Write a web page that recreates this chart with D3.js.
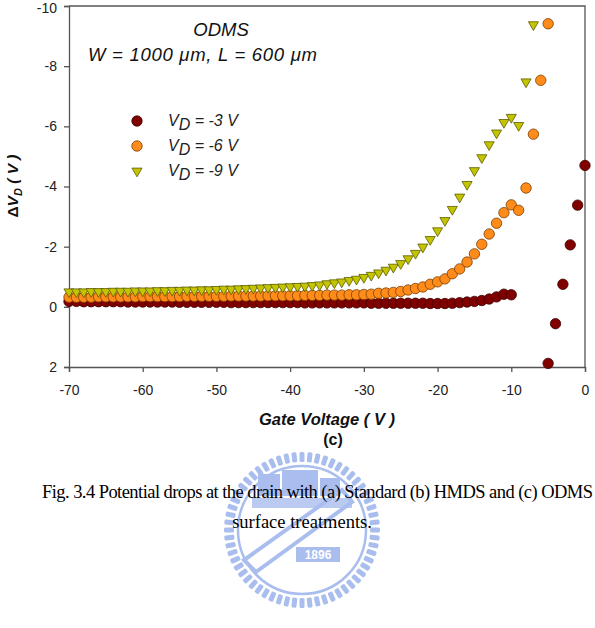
<!DOCTYPE html>
<html>
<head>
<meta charset="utf-8">
<script src="https://cdn.jsdelivr.net/npm/d3@7"></script>
<style>
  body { margin: 0; background: #fff; }
  svg { display: block; }
</style>
</head>
<body>
<svg id="chart" width="595" height="628"></svg>
<script>
// gate voltage sweep (1 V steps) for each drain bias
const gateVd3 = d3.range(-70, -9).concat([-5, -4, -3, -2, -1, 0]);
const gateVd6 = d3.range(-70, -4);
const gateVd9 = d3.range(-70, -6);

// potential drop dV_D (V)
const dropVd3 = [
  -0.18, -0.18, -0.17, -0.17, -0.17, -0.17, -0.17, -0.17, -0.16, -0.16,
  -0.16, -0.16, -0.16, -0.16, -0.16, -0.15, -0.15, -0.15, -0.15, -0.15,
  -0.15, -0.15, -0.14, -0.14, -0.14, -0.14, -0.14, -0.14, -0.14, -0.14,
  -0.14, -0.14, -0.13, -0.13, -0.13, -0.13, -0.13, -0.13, -0.13, -0.13,
  -0.13, -0.12, -0.12, -0.12, -0.12, -0.12, -0.12, -0.12, -0.12, -0.11,
  -0.11, -0.11, -0.12, -0.14, -0.16, -0.18, -0.21, -0.26, -0.33, -0.42,
  -0.40,
  1.88, 0.56, -0.75, -2.06, -3.38, -4.70
];
const dropVd6 = [
  -0.32, -0.32, -0.32, -0.32, -0.33, -0.33, -0.33, -0.33, -0.33, -0.33,
  -0.34, -0.34, -0.34, -0.34, -0.34, -0.34, -0.35, -0.35, -0.35, -0.35,
  -0.35, -0.35, -0.36, -0.36, -0.36, -0.36, -0.36, -0.37, -0.37, -0.37,
  -0.37, -0.37, -0.38, -0.38, -0.38, -0.39, -0.39, -0.39, -0.40, -0.40,
  -0.41, -0.42, -0.45, -0.46, -0.48, -0.51, -0.56, -0.61, -0.66, -0.75,
  -0.83, -0.93, -1.10, -1.26, -1.49, -1.76, -2.08, -2.42, -2.78, -3.13,
  -3.39, -3.21, -3.95, -5.74, -7.53, -9.41
];
const dropVd9 = [
  -0.50, -0.50, -0.50, -0.51, -0.51, -0.51, -0.52, -0.52, -0.52, -0.53,
  -0.53, -0.53, -0.54, -0.54, -0.55, -0.55, -0.56, -0.56, -0.57, -0.57,
  -0.58, -0.59, -0.59, -0.60, -0.61, -0.62, -0.63, -0.64, -0.65, -0.66,
  -0.67, -0.68, -0.69, -0.71, -0.73, -0.77, -0.80, -0.83, -0.88, -0.92,
  -0.98, -1.05, -1.13, -1.22, -1.32, -1.44, -1.60, -1.78, -1.99, -2.24,
  -2.53, -2.87, -3.24, -3.65, -4.07, -4.53, -4.96, -5.39, -5.78, -6.13,
  -6.30, -6.03, -7.48, -9.38
];

const seriesLabels = ["-3", "-6", "-9"];
const xTicks = [-70, -60, -50, -40, -30, -20, -10, 0];
const yTicks = [-10, -8, -6, -4, -2, 0, 2];

const series = [
  { label: seriesLabels[0], x: gateVd3, y: dropVd3, shape: "circle", fill: "#800000", stroke: "#3d0000" },
  { label: seriesLabels[1], x: gateVd6, y: dropVd6, shape: "circle", fill: "#ff8c1a", stroke: "#7a3c00" },
  { label: seriesLabels[2], x: gateVd9, y: dropVd9, shape: "triangle", fill: "#c4c400", stroke: "#5c5c00" }
];

const svg = d3.select("#chart");
svg.append("rect").attr("width", 595).attr("height", 628).attr("fill", "#fff");

const plot = { left: 69, right: 585, top: 6, bottom: 367 };

// watermark (university seal), drawn faint behind everything
const wmColor = "#a9bdee";
const wm = svg.append("g").attr("transform", "translate(302,530)");
d3.range(0, 360, 6).forEach((a) => {
  wm.append("rect")
    .attr("x", -2.5).attr("y", -78)
    .attr("width", 5).attr("height", 10)
    .attr("rx", 1.5)
    .attr("fill", wmColor)
    .attr("transform", `rotate(${a})`);
});
wm.append("circle").attr("r", 64).attr("fill", "none")
  .attr("stroke", wmColor).attr("stroke-width", 2.5);
// building blocks
wm.append("rect").attr("x", -44).attr("y", -56).attr("width", 22).attr("height", 22)
  .attr("fill", wmColor);
wm.append("rect").attr("x", -20).attr("y", -60).attr("width", 36).attr("height", 26)
  .attr("fill", wmColor);
wm.append("rect").attr("x", 18).attr("y", -52).attr("width", 20).attr("height", 18)
  .attr("fill", wmColor);
wm.append("rect").attr("x", -50).attr("y", -32).attr("width", 100).attr("height", 10)
  .attr("fill", wmColor).attr("opacity", 0.8);
// diagonal band
wm.append("path")
  .attr("d", "M-58,30 L-46,42 L50,-28 L40,-40 Z")
  .attr("fill", "none").attr("stroke", wmColor).attr("stroke-width", 4);
// year plate
wm.append("rect").attr("x", -6).attr("y", 17).attr("width", 44).attr("height", 15)
  .attr("fill", wmColor);
wm.append("text").attr("x", 16).attr("y", 29).attr("text-anchor", "middle")
  .attr("font-family", "Liberation Sans, Arial, sans-serif")
  .attr("font-weight", "bold").attr("font-size", 12).attr("fill", "#fff")
  .text("1896");

// scales
const x = d3.scaleLinear().domain([-70, 0]).range([plot.left, plot.right]);
const y = d3.scaleLinear().domain([-10, 2]).range([plot.top, plot.bottom]);

const axisColor = "#555";
const font = "Liberation Sans, Arial, sans-serif";

// axes
const yAxisG = svg.append("g")
  .attr("transform", `translate(${plot.left},0)`)
  .call(d3.axisLeft(y).tickValues(yTicks).tickSize(5).tickPadding(7).tickFormat(String));
const xAxisG = svg.append("g")
  .attr("transform", `translate(0,${plot.bottom})`)
  .call(d3.axisBottom(x).tickValues(xTicks).tickSize(5).tickPadding(13).tickFormat(String));
[yAxisG, xAxisG].forEach((g) => {
  g.select(".domain").attr("stroke", axisColor).attr("stroke-width", 1.3);
  g.selectAll(".tick line").attr("stroke", axisColor).attr("stroke-width", 1.3);
  g.selectAll(".tick text").attr("font-family", font).attr("font-size", 14).attr("fill", "#222");
});
// keep the top label inside the page
yAxisG.selectAll(".tick text").filter((d) => d === -10).attr("dy", "0.45em");

// top and right frame
svg.append("path")
  .attr("d", `M${plot.left},${plot.top}H${plot.right}V${plot.bottom}`)
  .attr("fill", "none").attr("stroke", axisColor).attr("stroke-width", 1.3);

// markers
const triangle = d3.symbol().type(d3.symbolTriangle).size(44);
const marks = svg.append("g").attr("class", "marks");
series.forEach((s) => {
  const pts = s.x.map((v, i) => [v, s.y[i]]);
  const g = marks.append("g");
  if (s.shape === "circle") {
    g.selectAll("circle").data(pts).enter().append("circle")
      .attr("cx", (d) => x(d[0])).attr("cy", (d) => y(d[1]))
      .attr("r", 5.2)
      .attr("fill", s.fill).attr("stroke", s.stroke).attr("stroke-width", 0.8);
  } else {
    g.selectAll("path").data(pts).enter().append("path")
      .attr("d", triangle)
      .attr("transform", (d) => `translate(${x(d[0])},${y(d[1])}) rotate(180)`)
      .attr("fill", s.fill).attr("stroke", s.stroke).attr("stroke-width", 0.8);
  }
});

// legend
const legend = svg.append("g");
series.forEach((s, i) => {
  const ly = 121 + i * 25;
  if (s.shape === "circle") {
    legend.append("circle").attr("cx", 137).attr("cy", ly).attr("r", 5.2)
      .attr("fill", s.fill).attr("stroke", s.stroke).attr("stroke-width", 0.8);
  } else {
    legend.append("path").attr("d", triangle)
      .attr("transform", `translate(137,${ly}) rotate(180)`)
      .attr("fill", s.fill).attr("stroke", s.stroke).attr("stroke-width", 0.8);
  }
  const t = legend.append("text").attr("x", 168).attr("y", ly + 5)
    .attr("font-family", font).attr("font-style", "italic")
    .attr("font-size", 16).attr("fill", "#222");
  t.append("tspan").text("V");
  t.append("tspan").attr("dy", 4).text("D");
  t.append("tspan").attr("dy", -4).text(` = ${s.label} V`);
});

// in-plot title
svg.append("text").attr("x", 221).attr("y", 36).attr("text-anchor", "middle")
  .attr("font-family", font).attr("font-style", "italic").attr("font-size", 18.5)
  .attr("fill", "#111").text("ODMS");
svg.append("text").attr("x", 88).attr("y", 61)
  .attr("textLength", 229).attr("lengthAdjust", "spacing")
  .attr("font-family", font).attr("font-style", "italic").attr("font-size", 18.5)
  .attr("fill", "#111").text("W = 1000 \u03bcm, L = 600 \u03bcm");

// axis titles
svg.append("text").attr("x", 327).attr("y", 425).attr("text-anchor", "middle")
  .attr("font-family", font).attr("font-style", "italic").attr("font-weight", "bold")
  .attr("font-size", 16.5).attr("fill", "#111").text("Gate Voltage ( V )");
svg.append("text").attr("x", 333).attr("y", 445).attr("text-anchor", "middle")
  .attr("font-family", font).attr("font-weight", "bold")
  .attr("font-size", 16).attr("fill", "#111").text("(c)");

const yTitle = svg.append("text")
  .attr("transform", "translate(18,186) rotate(-90)")
  .attr("text-anchor", "middle")
  .attr("font-family", font).attr("font-weight", "bold").attr("font-style", "italic")
  .attr("font-size", 15.5).attr("fill", "#111");
yTitle.append("tspan").attr("font-style", "normal").text("\u0394");
yTitle.append("tspan").text("V");
yTitle.append("tspan").attr("dy", 4).attr("font-size", 11).text("D");
yTitle.append("tspan").attr("dy", -4).text(" ( V )");

// figure caption
svg.append("text").attr("x", 42).attr("y", 498)
  .attr("textLength", 551).attr("lengthAdjust", "spacing")
  .attr("font-family", "Liberation Serif, Times New Roman, serif")
  .attr("font-size", 18.5).attr("fill", "#000")
  .text("Fig. 3.4 Potential drops at the drain with (a) Standard (b) HMDS and (c) ODMS");
svg.append("text").attr("x", 302).attr("y", 528).attr("text-anchor", "middle")
  .attr("font-family", "Liberation Serif, Times New Roman, serif")
  .attr("font-size", 18.5).attr("fill", "#000")
  .text("surface treatments.");
</script>
</body>
</html>
